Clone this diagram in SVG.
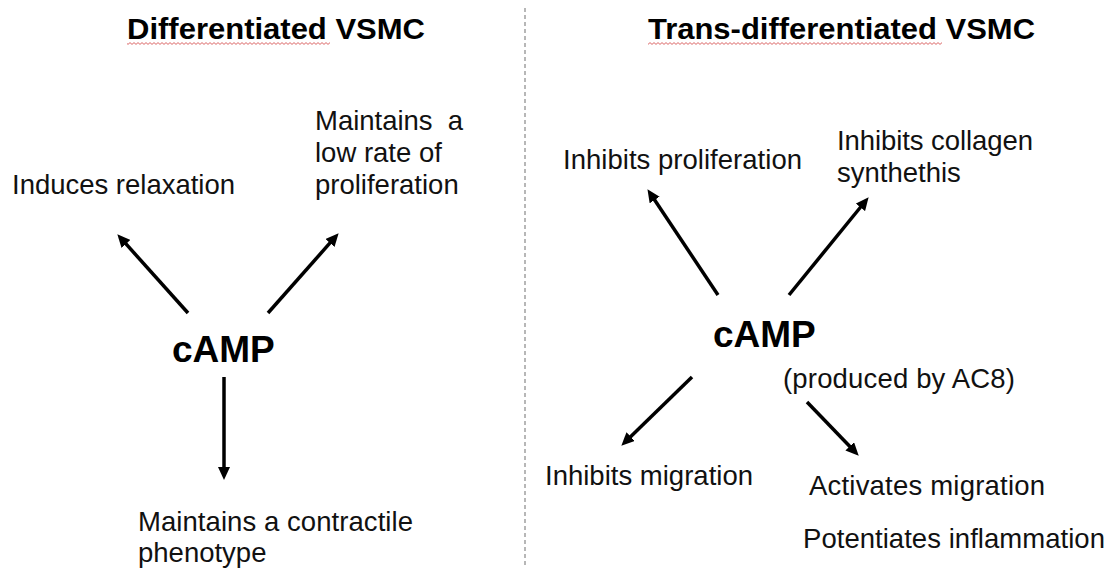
<svg xmlns="http://www.w3.org/2000/svg" width="1111" height="568" viewBox="0 0 1111 568">
  <style>
    .title { font-family: "Liberation Sans", Arial, sans-serif; font-weight: bold; font-size: 29px; fill: #000; }
    .camp { font-family: "Liberation Sans", Arial, sans-serif; font-weight: bold; font-size: 37px; fill: #000; }
    .lbl { font-family: "Liberation Sans", Arial, sans-serif; font-size: 27.5px; fill: #111; white-space: pre; }
    .arrow { stroke: #000; stroke-width: 3.5; fill: none; marker-end: url(#head); }
    .divider { stroke: #888; stroke-width: 1.2; stroke-dasharray: 4 3; fill: none; }
  </style>
  <defs>
    <marker id="head" markerUnits="userSpaceOnUse" markerWidth="13" markerHeight="12" refX="3" refY="6" orient="auto">
      <path d="M0,0 L13,6 L0,12 z" fill="#000"/>
    </marker>
    <pattern id="squiggle" patternUnits="userSpaceOnUse" width="4" height="3">
      <path d="M0,2.4 L2,0.6 L4,2.4" stroke="#d04040" stroke-width="0.8" fill="none"/>
    </pattern>
  </defs>
  <rect width="1111" height="568" fill="#fff"/>

  <line class="divider" x1="525" y1="8" x2="525" y2="568"/>

  <g id="title-left">
    <text class="title" x="127" y="39" textLength="298" lengthAdjust="spacingAndGlyphs">Differentiated VSMC</text>
    <rect x="127" y="42" width="203" height="3" fill="url(#squiggle)"/>
  </g>
  <g id="title-right">
    <text class="title" x="648" y="39" textLength="387" lengthAdjust="spacingAndGlyphs">Trans-differentiated VSMC</text>
    <rect x="648" y="42" width="294" height="3" fill="url(#squiggle)"/>
  </g>

  <g id="camp-left">
    <text class="camp" x="172" y="362">cAMP</text>
  </g>
  <g id="induces-relaxation">
    <text class="lbl" x="12" y="194" textLength="223" lengthAdjust="spacing">Induces relaxation</text>
  </g>
  <g id="low-proliferation">
    <text class="lbl" x="315" y="130" textLength="148" lengthAdjust="spacing">Maintains  a</text>
    <text class="lbl" x="315" y="162">low rate of</text>
    <text class="lbl" x="315" y="194">proliferation</text>
  </g>
  <g id="contractile">
    <text class="lbl" x="138" y="531" textLength="275" lengthAdjust="spacing">Maintains a contractile</text>
    <text class="lbl" x="138" y="562">phenotype</text>
  </g>

  <g id="camp-right">
    <text class="camp" x="713" y="347">cAMP</text>
    <text class="lbl" x="783" y="388" textLength="232" lengthAdjust="spacing">(produced by AC8)</text>
  </g>
  <g id="inhibits-proliferation">
    <text class="lbl" x="563" y="169" textLength="239" lengthAdjust="spacing">Inhibits proliferation</text>
  </g>
  <g id="inhibits-collagen">
    <text class="lbl" x="837" y="150" textLength="196" lengthAdjust="spacing">Inhibits collagen</text>
    <text class="lbl" x="837" y="182">synthethis</text>
  </g>
  <g id="inhibits-migration">
    <text class="lbl" x="545" y="485" textLength="208" lengthAdjust="spacing">Inhibits migration</text>
  </g>
  <g id="activates-migration">
    <text class="lbl" x="809" y="495" textLength="236" lengthAdjust="spacing">Activates migration</text>
  </g>
  <g id="potentiates-inflammation">
    <text class="lbl" x="803" y="548" textLength="302" lengthAdjust="spacing">Potentiates inflammation</text>
  </g>

  <g id="connectors">
    <line class="arrow" x1="188" y1="313" x2="124" y2="241.7"/>
    <line class="arrow" x1="268" y1="313" x2="332" y2="240.7"/>
    <line class="arrow" x1="224" y1="377" x2="224" y2="470"/>
    <line class="arrow" x1="718" y1="295" x2="653" y2="197.5"/>
    <line class="arrow" x1="789" y1="295" x2="862.3" y2="205"/>
    <line class="arrow" x1="692" y1="377" x2="628.5" y2="438.7"/>
    <line class="arrow" x1="807" y1="402" x2="851.8" y2="448.5"/>
  </g>
</svg>
